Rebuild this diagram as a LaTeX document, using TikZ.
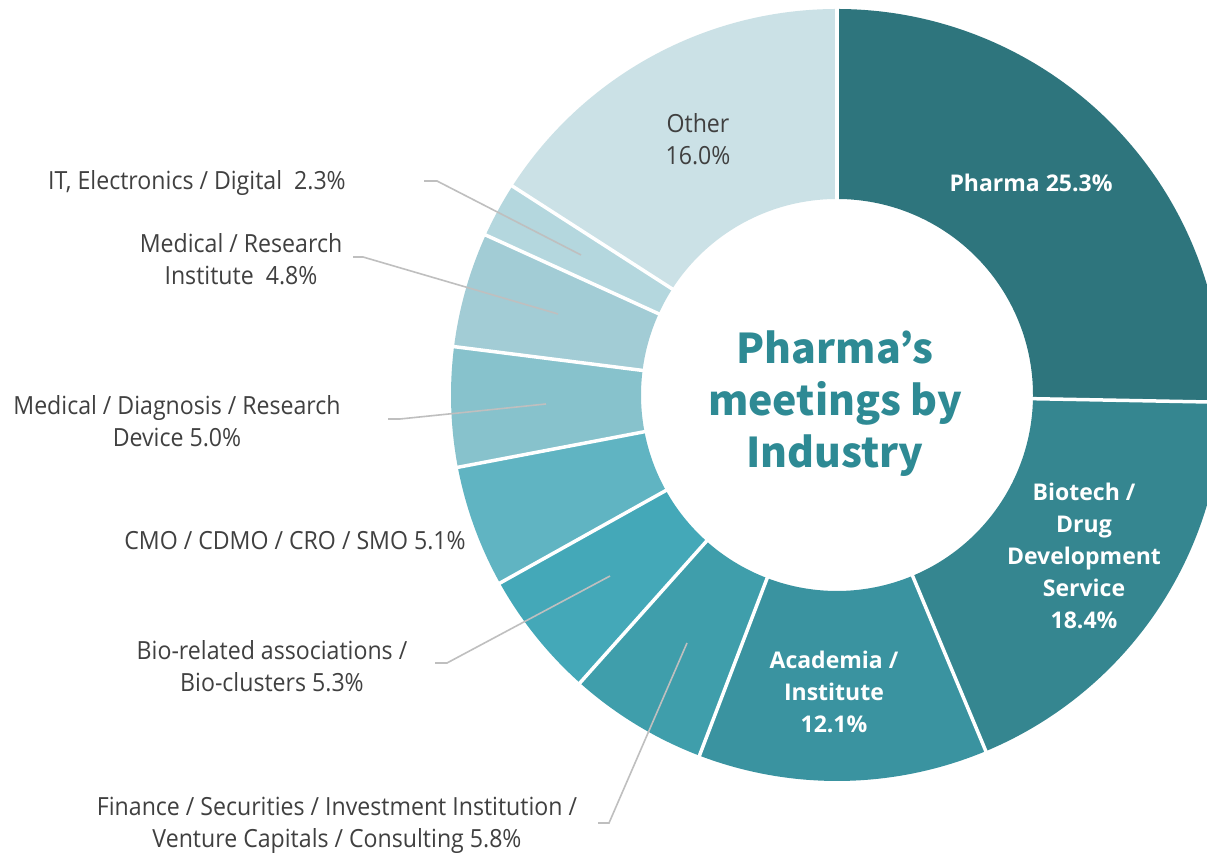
\documentclass[tikz,border=0pt]{standalone}
\usepackage{fontspec}
\setmainfont{Open Sans}
\newfontfamily\lblfont{Open Sans}[FakeStretch=0.925]
\newfontfamily\titlefont{Noto Sans CJK JP}
\definecolor{cPharma}{HTML}{2E757D}
\definecolor{cBio}{HTML}{358690}
\definecolor{cAcad}{HTML}{3A93A0}
\definecolor{cFin}{HTML}{3F9EAB}
\definecolor{cAssoc}{HTML}{44A8B8}
\definecolor{cCMO}{HTML}{60B4C2}
\definecolor{cDev}{HTML}{87C2CC}
\definecolor{cRes}{HTML}{A2CCD5}
\definecolor{cIT}{HTML}{B4D7DE}
\definecolor{cOther}{HTML}{CBE1E6}
\definecolor{titlecol}{HTML}{2E8A94}
\definecolor{labelgray}{HTML}{404040}
\definecolor{leadergray}{HTML}{BFBFBF}
\begin{document}
\begin{tikzpicture}[x=1pt,y=1pt,
  lbl/.style={text=labelgray, font=\lblfont\fontsize{25}{32}\selectfont, align=center, inner sep=0pt},
  inlbl/.style={text=white, font=\bfseries\fontsize{23}{32}\selectfont, align=center, inner sep=0pt},
  ttl/.style={text=titlecol, font=\titlefont\bfseries\fontsize{41}{52}\selectfont, align=center, inner sep=0pt},
  leader/.style={draw=leadergray, line width=1.6pt},
  sepline/.style={draw=white, line width=3.5pt}]
\useasboundingbox (0,0) rectangle (1207,856);
\clip (0,0) rectangle (1207,856);
\fill[white] (0,0) rectangle (1207,856);
\coordinate (c) at (837,461);
\begin{scope}[shift={(c)}]
\foreach \a/\b/\col in {90/-1.08/cPharma, -1.08/-67.32/cBio, -67.32/-110.88/cAcad,
  -110.88/-131.76/cFin, -131.76/-150.84/cAssoc, -150.84/-169.2/cCMO,
  -169.2/-187.2/cDev, -187.2/-204.48/cRes, -204.48/-212.76/cIT, -212.76/-270/cOther} {
  \fill[\col] (\a:386) arc[start angle=\a, end angle=\b, radius=386]
    -- (\b:196) arc[start angle=\b, end angle=\a, radius=196] -- cycle;
}
\foreach \a in {90,-1.08,-67.32,-110.88,-131.76,-150.84,-169.2,-187.2,-204.48,-212.76}
  \draw[sepline] (\a:190) -- (\a:392);
\end{scope}

% title
\node[ttl] (title) at (835,452) {Pharma’s\\meetings by\\Industry};

% in-slice labels
\node[inlbl] (pharma) at (1031,673) {Pharma 25.3\%};
\node[inlbl] (biotech) at (1084,300) {Biotech /\\Drug\\Development\\Service\\18.4\%};
\node[inlbl] (acad) at (834,164) {Academia /\\Institute\\12.1\%};
\node[lbl] (other) at (698,717) {Other\\16.0\%};

% outside labels
\node[lbl, anchor=east] (it) at (346,673) {IT, Electronics / Digital\ \ 2.3\%};
\node[lbl] (res) at (241,597) {Medical / Research\\Institute\ \ 4.8\%};
\node[lbl] (dev) at (177,434.5) {Medical / Diagnosis / Research\\Device 5.0\%};
\node[lbl] (cmo) at (295,315) {CMO / CDMO / CRO / SMO 5.1\%};
\node[lbl] (assoc) at (272,190) {Bio-related associations /\\Bio-clusters 5.3\%};
\node[lbl] (fin) at (337,31) {Finance / Securities / Investment Institution /\\Venture Capitals / Consulting 5.8\%};

% leader lines
\coordinate (itA) at (424,675); \coordinate (itB) at (437,675); \coordinate (itC) at (581,601);
\coordinate (resA) at (353,599); \coordinate (resB) at (363,599); \coordinate (resC) at (558,542);
\coordinate (devA) at (388,437); \coordinate (devB) at (400,437); \coordinate (devC) at (546,452);
\coordinate (assA) at (435,193); \coordinate (assB) at (447,193); \coordinate (assC) at (610,280);
\coordinate (finA) at (598,33); \coordinate (finB) at (609,33); \coordinate (finC) at (687,213);
\draw[leader] (itA) -- (itB) -- (itC);
\draw[leader] (resA) -- (resB) -- (resC);
\draw[leader] (devA) -- (devB) -- (devC);
\draw[leader] (assA) -- (assB) -- (assC);
\draw[leader] (finA) -- (finB) -- (finC);
\end{tikzpicture}
\end{document}
